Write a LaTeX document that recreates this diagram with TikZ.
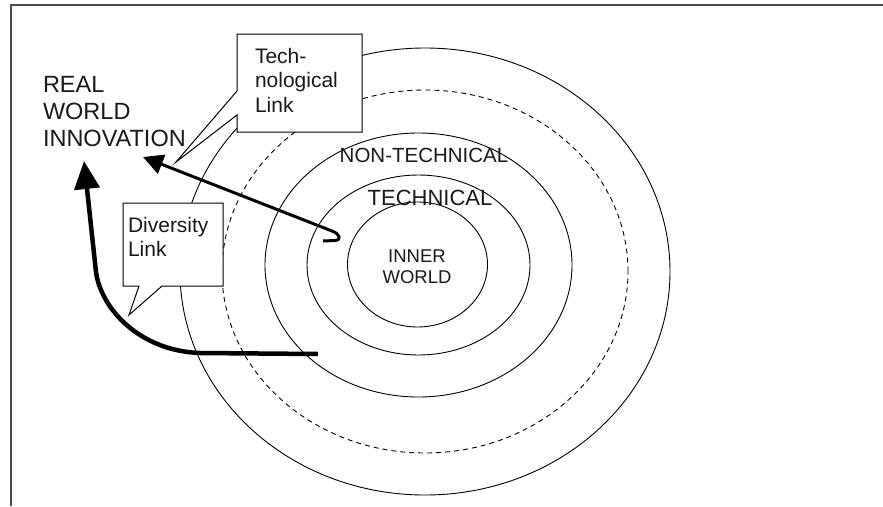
\documentclass[tikz,border=0pt]{standalone}
\usepackage{fontspec}
\setmainfont{Liberation Sans}
\usetikzlibrary{arrows.meta}
\begin{document}
\begin{tikzpicture}[x=1pt,y=-1pt,
  ring/.style={draw=black,line width=0.9pt},
  dashring/.style={ring,dash pattern=on 5pt off 4pt},
  callout/.style={draw=black,line width=1pt,fill=white,line join=miter},
  txt/.style={inner sep=0pt,outer sep=0pt,text=black!90},
  link/.style={draw=black,line width=3pt,line join=round,
    -{Triangle[length=20pt,width=20pt]}},
  biglink/.style={link,line width=4.5pt,
    -{Triangle[length=28pt,width=25pt]}},
]
\useasboundingbox (0,0) rectangle (883,506);
\fill[white] (0,0) rectangle (883,506);

% page frame (top and left edges only)
\draw[line width=2pt,color=black!70] (11,506) -- (11,5) -- (883,5);

% the nested worlds
\draw[ring]     (425,271.5) ellipse [x radius=245pt,y radius=223.5pt];
\draw[dashring] (425,271.5) ellipse [x radius=203pt,y radius=181.5pt];
\draw[ring]     (418.5,265) ellipse [x radius=153.5pt,y radius=132pt];
\draw[ring]     (418.5,265) ellipse [x radius=111.5pt,y radius=90pt];
\draw[ring]     (417.5,264.5) ellipse [x radius=70pt,y radius=62.5pt];

% callout boxes
\draw[callout] (237,34) -- (362,34) -- (362,132) -- (237,132) -- (237,115)
  -- (176,162) -- (237,91) -- cycle;
\draw[callout] (123,203) -- (223,203) -- (223,286) -- (162,286)
  -- (129,315) -- (139,286) -- (123,286) -- cycle;

% labels
\node[txt,anchor=north west,align=left,font=\fontsize{23.5}{27}\selectfont]
  (real) at (43,76) {REAL\\WORLD\\INNOVATION};
\node[txt,anchor=north west,align=left,font=\fontsize{21}{24.5}\selectfont]
  (techlink) at (255,48) {Tech-\\nological\\Link};
\node[txt,anchor=north west,align=left,font=\fontsize{21}{24}\selectfont]
  (divlink) at (128,217) {Diversity\\Link};
\node[txt,anchor=base,font=\fontsize{20.5}{24}\selectfont]
  (nontech) at (424,162) {NON-TECHNICAL};
\node[txt,anchor=base,font=\fontsize{22}{26}\selectfont]
  (tech) at (430,205) {TECHNICAL};
\node[txt,anchor=north,align=center,font=\fontsize{18.5}{20.5}\selectfont]
  (inner) at (417,250) {INNER\\WORLD};

% links back to the real world
\coordinate (techstart) at (323,241);
\coordinate (techtip) at (143,157);
\coordinate (divstart) at (318,354);
\coordinate (divtip) at (84,161);

\draw[link] (techstart) -- (335,240.5) .. controls (342,240) and (340,234)
  .. (332,231) -- (techtip);
\draw[biglink] (divstart) -- (200,353) .. controls (140,351) and (101,309)
  .. (96,272) -- (divtip);
\end{tikzpicture}
\end{document}
